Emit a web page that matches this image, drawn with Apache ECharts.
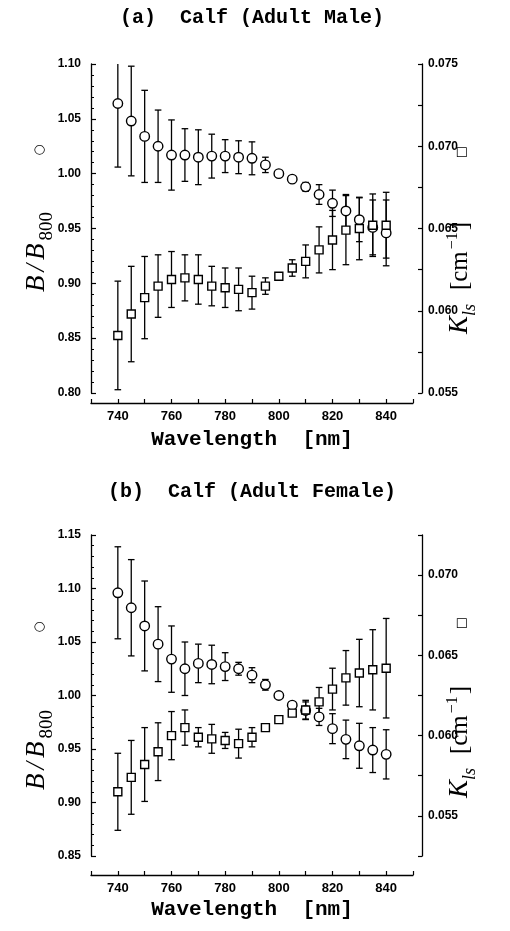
<!DOCTYPE html>
<html><head><meta charset="utf-8">
<script src="https://cdn.jsdelivr.net/npm/echarts@6/dist/echarts.min.js"></script>
<style>html,body{margin:0;padding:0;background:#fff}#c{width:510px;height:931px}</style>
</head><body><div id="c"></div>
<script>
// ---- data ----
const wavelengths = [740,745,750,755,760,765,770,775,780,785,790,795,800,805,810,815,820,825,830,835,840];
// (a) adult male
const maleB    = [1.064,1.048,1.034,1.025,1.017,1.017,1.015,1.016,1.016,1.015,1.014,1.008,1.000,0.995,0.988,0.981,0.973,0.966,0.958,0.951,0.946];
const maleBErr = [0.058,0.050,0.042,0.033,0.032,0.024,0.025,0.020,0.015,0.015,0.015,0.007,0,0,0.004,0.009,0.012,0.015,0.020,0.025,0.030];
const maleK    = [0.0585,0.0598,0.0608,0.0615,0.0619,0.0620,0.0619,0.0615,0.0614,0.0613,0.0611,0.0615,0.0621,0.0626,0.0630,0.0637,0.0643,0.0649,0.0650,0.0652,0.0652];
const maleKErr = [0.0033,0.0029,0.0025,0.0019,0.0017,0.0014,0.0015,0.0012,0.0012,0.0013,0.0010,0.0005,0,0.0005,0.0010,0.0014,0.0018,0.0021,0.0019,0.0019,0.0020];
// (b) adult female
const femaleB    = [1.096,1.082,1.065,1.048,1.034,1.025,1.030,1.029,1.027,1.025,1.019,1.010,1.000,0.991,0.986,0.980,0.969,0.959,0.953,0.949,0.945];
const femaleBErr = [0.043,0.045,0.042,0.035,0.031,0.025,0.018,0.018,0.013,0.006,0.007,0.005,0,0.003,0.008,0.008,0.014,0.018,0.021,0.021,0.023];
const femaleK    = [0.0565,0.0574,0.0582,0.0590,0.0600,0.0605,0.0599,0.0598,0.0597,0.0595,0.0599,0.0605,0.0610,0.0614,0.0616,0.0621,0.0629,0.0636,0.0639,0.0641,0.0642];
const femaleKErr = [0.0024,0.0023,0.0023,0.0018,0.0015,0.0011,0.0006,0.0009,0.0005,0.0009,0.0006,0,0,0,0.0006,0.0009,0.0013,0.0017,0.0021,0.0025,0.0031];
// axis ranges
const xRange = [730, 850];
const maleBRange = [0.80, 1.10];
const maleKRange = [0.055, 0.075];
const femaleBRange = [0.85, 1.15];
const femaleKRange = [0.0525, 0.0725];
const titles = ['(a)  Calf (Adult Male)', '(b)  Calf (Adult Female)'];
const xName = 'Wavelength  [nm]';

// ---- chart ----
const chart = echarts.init(document.getElementById('c'), null, {renderer:'canvas'});
const BLACK = '#000';
const tickFont = {fontFamily:'Liberation Sans, Arial, sans-serif', fontSize:12, fontWeight:'bold', color:BLACK};

function xAxis(gi, offset){
  return {type:'value', gridIndex:gi, min:xRange[0], max:xRange[1], interval:10, offset:offset,
    axisLine:{show:true, onZero:false, lineStyle:{color:BLACK, width:1.3}},
    axisTick:{show:true, inside:true, length:4, lineStyle:{color:BLACK, width:1.2}},
    splitLine:{show:false},
    axisLabel:Object.assign({}, tickFont, {margin:7, fontSize:13, formatter:v=> (v>=740 && v<=840 && (v-740)%20===0) ? String(v) : ''})};
}
function yLeft(gi, r){
  return {type:'value', gridIndex:gi, position:'left', min:r[0], max:r[1], interval:0.05,
    axisLine:{show:true, onZero:false, lineStyle:{color:BLACK, width:1.3}},
    axisTick:{show:true, inside:true, length:5, lineStyle:{color:BLACK, width:1.2}},
    minorTick:{show:true, splitNumber:5, length:3, lineStyle:{color:BLACK, width:1}},
    splitLine:{show:false}, minorSplitLine:{show:false},
    axisLabel:Object.assign({margin:10, formatter:v=>v.toFixed(2)}, tickFont)};
}
function yRight(gi, r){
  return {type:'value', gridIndex:gi, position:'right', offset:9, min:r[0], max:r[1], interval:0.0025,
    axisLine:{show:true, onZero:false, lineStyle:{color:BLACK, width:1.3}},
    axisTick:{show:true, inside:true, length:4, lineStyle:{color:BLACK, width:1.2}},
    splitLine:{show:false},
    axisLabel:Object.assign({margin:6, formatter:v=>{const q=v/0.005; return Math.abs(q-Math.round(q))<1e-6 ? v.toFixed(3) : '';}}, tickFont)};
}
function errSeries(xi, yi, vals, errs){
  return {type:'custom', xAxisIndex:xi, yAxisIndex:yi, clip:true, z:2, silent:true,
    data: wavelengths.map((w,i)=>[w, vals[i], errs[i]]),
    encode:{x:0, y:1},
    renderItem:function(params, api){
      const x=api.value(0), y=api.value(1), e=api.value(2);
      if(!e) return {type:'group', children:[]};
      const t=api.coord([x,y+e]), b=api.coord([x,y-e]);
      const c=3.3, st={stroke:BLACK, lineWidth:1.3};
      return {type:'group', children:[
        {type:'line', shape:{x1:t[0],y1:t[1],x2:b[0],y2:b[1]}, style:st},
        {type:'line', shape:{x1:t[0]-c,y1:t[1],x2:t[0]+c,y2:t[1]}, style:st},
        {type:'line', shape:{x1:b[0]-c,y1:b[1],x2:b[0]+c,y2:b[1]}, style:st}
      ]};
    }};
}
function marks(xi, yi, vals, sym, size){
  return {type:'scatter', xAxisIndex:xi, yAxisIndex:yi, symbol:sym, symbolSize:size, z:5, silent:true,
    data: wavelengths.map((w,i)=>[w, vals[i]]),
    itemStyle:{color:'#fff', borderColor:BLACK, borderWidth:1.4, opacity:1}};
}

const monoFont = '"Liberation Mono", "Courier New", monospace';
const serif = '"Liberation Serif", "Times New Roman", serif';
function bLabel(x, y){
  return {type:'text', x:x, y:y, rotation:Math.PI/2, silent:true,
    style:{text:'{i|B}{sl|/}{i|B}{s|800}', align:'center', verticalAlign:'middle', textAlign:'center', textVerticalAlign:'middle',
      rich:{i:{fontFamily:serif, fontStyle:'italic', fontSize:27, fill:BLACK, padding:[0,0,7,0], verticalAlign:'bottom'},
            sl:{fontFamily:serif, fontStyle:'italic', fontSize:27, fill:BLACK, padding:[0,4,7,4], verticalAlign:'bottom'},
            s:{fontFamily:serif, fontSize:19, fill:BLACK, padding:[0,0,0,3], verticalAlign:'bottom'}}}};
}
function kLabel(x, y){
  return {type:'text', x:x, y:y, rotation:Math.PI/2, silent:true,
    style:{text:'{i|K}{s|ls}{n|[cm}{p|−1}{n|]}', align:'center', verticalAlign:'middle', textAlign:'center', textVerticalAlign:'middle',
      rich:{i:{fontFamily:serif, fontStyle:'italic', fontSize:27, fill:BLACK, padding:[0,0,6,0], verticalAlign:'bottom'},
            s:{fontFamily:serif, fontStyle:'italic', fontSize:18, fill:BLACK, padding:[0,14,0,0], verticalAlign:'bottom'},
            n:{fontFamily:serif, fontSize:25, fill:BLACK, padding:[0,0,6,0], verticalAlign:'bottom'},
            p:{fontFamily:serif, fontSize:16, fill:BLACK, padding:[0,2,18,2], verticalAlign:'bottom'}}}};
}
function symText(x, y, ch){
  return {type:'text', x:x, y:y, rotation:Math.PI/2, silent:true,
    style:{text:ch, align:'center', verticalAlign:'middle', textAlign:'center', textVerticalAlign:'middle',
      font:'13px "DejaVu Sans"', fill:BLACK}};
}
function plainText(x, y, txt, size){
  return {type:'text', x:x, y:y, silent:true,
    style:{text:txt, align:'center', verticalAlign:'middle', textAlign:'center', textVerticalAlign:'middle',
      font:'bold '+size+'px '+monoFont, fill:BLACK}};
}

const option = {
  backgroundColor:'#fff',
  animation:false,
  grid:[
    {left:91, top:64, width:322, height:329, containLabel:false},
    {left:91, top:535, width:322, height:321, containLabel:false}
  ],
  xAxis:[xAxis(0, 10), xAxis(1, 19)],
  yAxis:[yLeft(0, maleBRange), yRight(0, maleKRange), yLeft(1, femaleBRange), yRight(1, femaleKRange)],
  series:[
    errSeries(0,0,maleB,maleBErr), errSeries(0,1,maleK,maleKErr),
    marks(0,0,maleB,'circle',9.5), marks(0,1,maleK,'rect',8),
    errSeries(1,2,femaleB,femaleBErr), errSeries(1,3,femaleK,femaleKErr),
    marks(1,2,femaleB,'circle',9.5), marks(1,3,femaleK,'rect',8)
  ],
  graphic:[
    plainText(252, 18, titles[0], 20),
    plainText(252, 440, xName, 21),
    plainText(252, 492, titles[1], 20),
    plainText(252, 910, xName, 21),
    bLabel(40, 252), symText(40, 150, '○'),
    kLabel(462, 278), symText(462, 152, '□'),
    bLabel(40, 750), symText(40, 627, '○'),
    kLabel(462, 742), symText(462, 623, '□')
  ]
};
chart.setOption(option);
</script>
</body></html>
